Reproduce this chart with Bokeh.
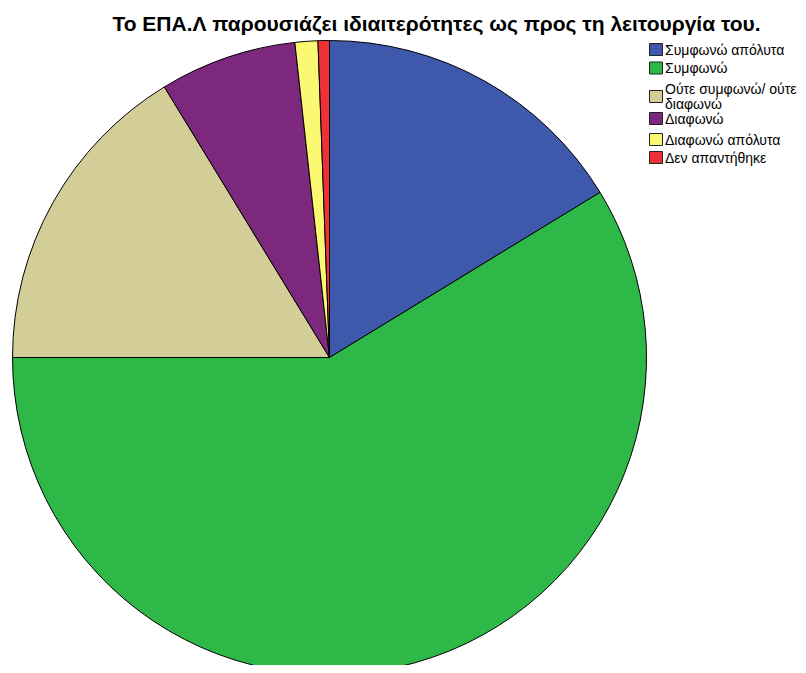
import math
from bokeh.plotting import figure
from bokeh.models import Range1d
from bokeh.core.properties import value
from bokeh.embed import file_html
from bokeh.resources import INLINE

title = "Το ΕΠΑ.Λ παρουσιάζει ιδιαιτερότητες ως προς τη λειτουργία του."
categories = ["Συμφωνώ απόλυτα", "Συμφωνώ", "Ούτε συμφωνώ/ ούτε\nδιαφωνώ",
              "Διαφωνώ", "Διαφωνώ απόλυτα", "Δεν απαντήθηκε"]
counts = [28, 101, 28, 12, 2, 1]
colors = ["#3E58AC", "#2EB848", "#D3CE97", "#7C287D", "#FBF873", "#EF3038"]

W, H = 798, 665
p = figure(width=W, height=H, output_backend="svg", toolbar_location=None,
           x_range=Range1d(0, W), y_range=Range1d(0, H), min_border=0)
p.axis.visible = False
p.grid.visible = False
p.outline_line_color = None

# pie (clockwise from 12 o'clock)
cx, cy, r = 329, H - 357, 317
total = sum(counts)
starts, ends = [], []
acc = 0.0
for c in counts:
    a0 = math.pi / 2 - 2 * math.pi * acc / total
    acc += c
    a1 = math.pi / 2 - 2 * math.pi * acc / total
    starts.append(a0)
    ends.append(a1)
p.wedge(x=[cx] * len(counts), y=[cy] * len(counts), radius=r,
        start_angle=starts, end_angle=ends, direction="clock",
        fill_color=colors, line_color="black", line_width=1)

# title
p.text(x=[436], y=[H - 23], text=[title], text_font=value("Liberation Sans"),
       text_font_size="21px", text_font_style="bold", text_align="center",
       text_baseline="middle", text_color="black")

# legend
ys = [49, 67.5, 96, 118, 139, 157]
lx = 655.5
for cat, col, yy in zip(categories, colors, ys):
    p.rect(x=[lx], y=[H - yy], width=13, height=12, fill_color=col,
           line_color="#222222", line_width=1)
    p.text(x=[lx + 9], y=[H - yy], text=[cat], text_font=value("Liberation Sans"),
           text_font_size="14px", text_align="left", text_baseline="middle",
           text_line_height=0.88, text_color="black")

open("out.html", "w").write(file_html(p, INLINE))
